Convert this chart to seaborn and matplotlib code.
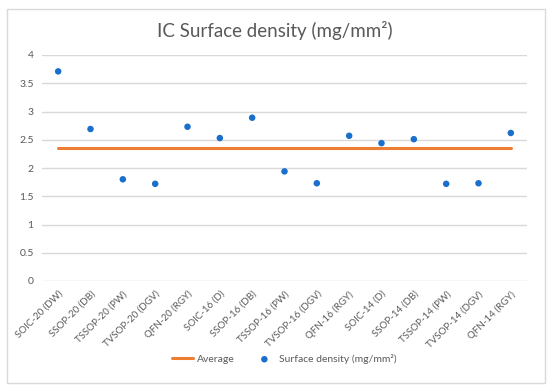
import matplotlib
matplotlib.use("Agg")
import matplotlib.pyplot as plt
from matplotlib.patches import Rectangle
import numpy as np
import pandas as pd
import seaborn as sns

packages = ["SOIC-20 (DW)", "SSOP-20 (DB)", "TSSOP-20 (PW)", "TVSOP-20 (DGV)",
            "QFN-20 (RGY)", "SOIC-16 (D)", "SSOP-16 (DB)", "TSSOP-16 (PW)",
            "TVSOP-16 (DGV)", "QFN-16 (RGY)", "SOIC-14 (D)", "SSOP-14 (DB)",
            "TSSOP-14 (PW)", "TVSOP-14 (DGV)", "QFN-14 (RGY)"]
density = [3.71, 2.69, 1.80, 1.72, 2.73, 2.53, 2.89, 1.94,
           1.73, 2.57, 2.44, 2.51, 1.72, 1.73, 2.62]
average = [2.35] * len(packages)

df = pd.DataFrame({"pos": np.arange(len(packages)), "package": packages,
                   "density": density, "average": average})

sns.set_style("white")
plt.rcParams["font.family"] = ["Lato", "DejaVu Sans"]

grey = "#595959"
fig = plt.figure(figsize=(5.5, 3.89), dpi=100)
fig.patches.append(Rectangle((7 / 550, 1 - 383 / 389), 538 / 550, 374 / 389,
                             transform=fig.transFigure, fill=False,
                             edgecolor="#d9d9d9", linewidth=1))
ax = fig.add_axes([42 / 550, 1 - 281 / 389, 485 / 550, 226 / 389])

sns.lineplot(data=df, x="pos", y="average", ax=ax, color="#ED7D31",
             linewidth=2.2, label="Average", sort=False)
sns.scatterplot(data=df, x="pos", y="density", ax=ax, color="#1B6FCC",
                s=22, edgecolor="none", label="Surface density (mg/mm²)")

ax.set_xlim(-0.5, len(packages) - 0.5)
ax.set_ylim(0, 4)
ax.set_yticks([0, 0.5, 1, 1.5, 2, 2.5, 3, 3.5, 4])
ax.set_yticklabels(["0", "0.5", "1", "1.5", "2", "2.5", "3", "3.5", "4"],
                   fontsize=7.5, color=grey)
ax.set_xticks(df["pos"])
ax.set_xticklabels(packages, rotation=45, ha="right", rotation_mode="anchor",
                   fontsize=7, color=grey)
ax.tick_params(axis="both", length=0, pad=6)
ax.grid(axis="y", color="#d9d9d9", linewidth=1)
for s in ax.spines.values():
    s.set_visible(False)
ax.set_xlabel("")
ax.set_ylabel("")

ax.legend(loc="center", bbox_to_anchor=(0.5, -0.345), ncol=2, frameon=False,
          fontsize=7.5, labelcolor=grey, handlelength=2.0, handletextpad=0.4,
          columnspacing=1.8)
fig.text(0.5, 1 - 31 / 389, "IC Surface density (mg/mm²)", ha="center",
         va="center", fontsize=13.5, color=grey)

plt.savefig("out.png", dpi=100)
